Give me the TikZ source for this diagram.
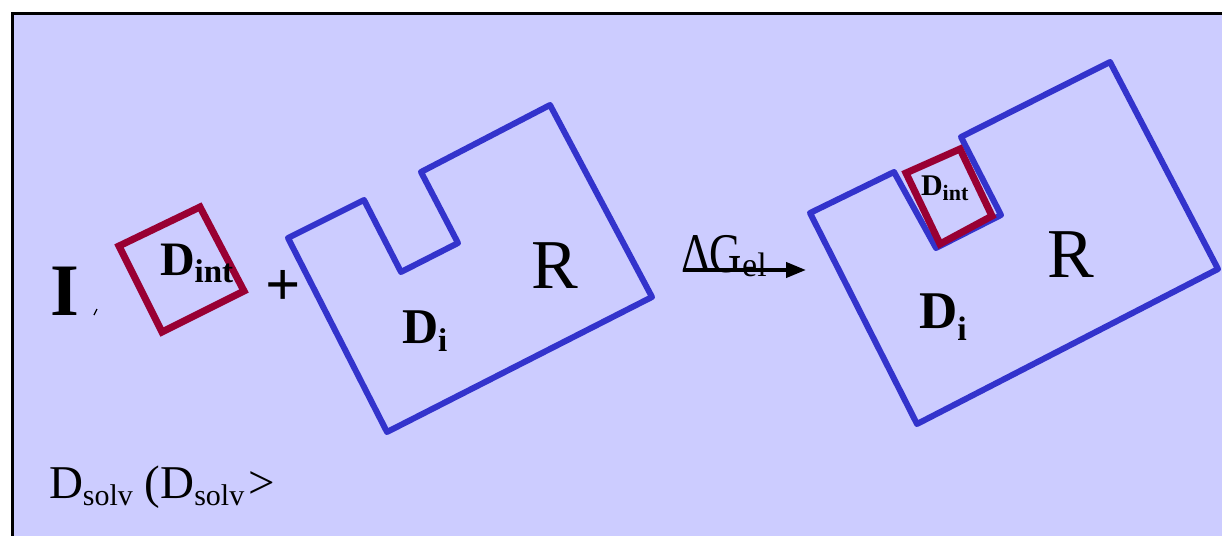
\documentclass[tikz,border=0pt]{standalone}
\usepackage{fontspec}
\usepackage{graphicx}
\setmainfont{Liberation Serif}
\usetikzlibrary{arrows.meta}
\definecolor{bgblue}{RGB}{204,204,255}
\definecolor{molred}{RGB}{153,0,51}
\definecolor{molblue}{RGB}{51,51,204}
\tikzset{
  lbl/.style={anchor=base west, inner sep=0pt, outer sep=0pt, text=black},
  redbox/.style={draw=molred, line width=7pt, line join=miter},
  bluebox/.style={draw=molblue, line width=6pt, line join=round},
  rxn/.style={line width=4pt, -{Triangle[length=20pt,width=15pt]}}
}
\newcommand{\fs}[1]{\fontsize{#1}{#1}\selectfont}
\begin{document}
\begin{tikzpicture}[x=1pt,y=-1pt]
\useasboundingbox (0,0) rectangle (1222,535);
\begin{scope}
\clip (0,0) rectangle (1222,535);
\draw[fill=bgblue, line width=3pt] (12,14) rectangle (1260,560);
\end{scope}

% left ligand box
\draw[redbox] (119,246) -- (200,207) -- (244,291) -- (162,332) -- cycle;
% left receptor
\draw[bluebox] (288,238) -- (364,200) -- (401,272) -- (458,243) -- (421,172) -- (550,105) -- (652,297) -- (387,432) -- cycle;
% right receptor
\draw[bluebox] (810,213) -- (894,172) -- (936,248) -- (1001,215) -- (961,137) -- (1110,62) -- (1218,269) -- (917,424) -- cycle;
% right ligand box
\draw[redbox] (906,173) -- (960,149) -- (992,216) -- (940,244) -- cycle;

% texts
\node[lbl] (tI) at (50,315) {\fs{74}\bfseries I};
\draw[line width=1.2pt] (94,315) -- (97,309);
\node[lbl] (dint1) at (160,275) {\fs{48}\bfseries D\raisebox{-7pt}{\fs{33}int}};
\node[lbl] (plus) at (265,305) {\fs{62}\bfseries +};
\node[lbl] (di1) at (402,343) {\fs{50}\bfseries D\raisebox{-8pt}{\fs{33}i}};
\node[lbl] (r1) at (531,288) {\fs{70}R};
\node[lbl] (dg) at (681,272) {\fs{56}\scalebox{0.8}[1]{ΔG}\raisebox{-4pt}{\fs{34}el}};
\coordinate (a1) at (683,270);
\coordinate (a2) at (806,270);
\draw[rxn] (a1) -- (a2);
\node[lbl] (dint2) at (921,195) {\fs{30}\bfseries D\raisebox{-5pt}{\fs{22}int}};
\node[lbl] (r2) at (1047,277) {\fs{70}R};
\node[lbl] (di2) at (919,328) {\fs{53}\bfseries D\raisebox{-12pt}{\fs{34}i}};
\node[lbl] (dsolv) at (49,498) {\fs{47}D\raisebox{-7pt}{\fs{30}solv} (D\raisebox{-7pt}{\fs{30}solv}\kern4pt>};
\end{tikzpicture}
\end{document}
